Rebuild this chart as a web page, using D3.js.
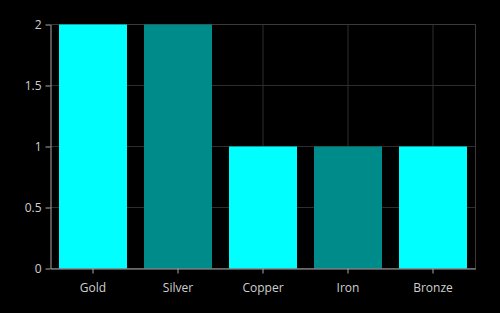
<!DOCTYPE html>
<meta charset="utf-8">
<style>
body { margin: 0; background: #000; }
svg { display: block; }
.grid line { stroke: #2e2e2e; stroke-width: 1px; }
.axis text { fill: #cfcfcf; font-family: "Open Sans", sans-serif; font-size: 12px; }
.axis path, .axis line { stroke: #a8a8a8; }
</style>
<svg width="500" height="313"></svg>
<script src="https://d3js.org/d3.v7.min.js"></script>
<script>

var categories = ["Gold", "Silver", "Copper", "Iron", "Bronze"];
var values = [2, 2, 1, 1, 1];
var barColors = ["#00ffff", "#008b8b", "#00ffff", "#008b8b", "#00ffff"];
var yTicks = [0, 0.5, 1, 1.5, 2];
var yTickLabels = ["0", "0.5", "1", "1.5", "2"];

var svg = d3.select("svg"),
    margin = {top: 24.5, right: 24.5, bottom: 44.5, left: 50.5},
    width = +svg.attr("width") - margin.left - margin.right,
    height = +svg.attr("height") - margin.top - margin.bottom;

svg.append("rect").attr("width", 500).attr("height", 313).attr("fill", "#000");

var g = svg.append("g").attr("transform", "translate(" + margin.left + "," + margin.top + ")");

var x = d3.scaleBand().domain(categories).range([0, width]).paddingInner(0.2).paddingOuter(0.1);
var y = d3.scaleLinear().domain([0, 2]).range([height, 0]);

// grid
var grid = g.append("g").attr("class", "grid");
grid.selectAll(".h").data(yTicks).enter().append("line")
    .attr("x1", 0).attr("x2", width)
    .attr("y1", function(d) { return y(d); }).attr("y2", function(d) { return y(d); });
grid.selectAll(".v").data(categories).enter().append("line")
    .attr("y1", 0).attr("y2", height)
    .attr("x1", function(d) { return x(d) + x.bandwidth() / 2; })
    .attr("x2", function(d) { return x(d) + x.bandwidth() / 2; });
grid.append("line").attr("x1", width).attr("x2", width).attr("y1", 0).attr("y2", height)
    .style("stroke", "#3a3a3a");
grid.append("line").attr("x1", 0).attr("x2", width).attr("y1", 0).attr("y2", 0)
    .style("stroke", "#3a3a3a");

g.selectAll(".bar").data(values).enter().append("rect")
    .attr("x", function(d, i) { return x(categories[i]); })
    .attr("y", function(d) { return y(d); })
    .attr("width", x.bandwidth())
    .attr("height", function(d) { return height - y(d); })
    .attr("fill", function(d, i) { return barColors[i]; });

g.append("g").attr("class", "axis")
    .attr("transform", "translate(0," + height + ")")
    .call(d3.axisBottom(x).tickSize(5).tickSizeOuter(0).tickPadding(8))
    .selectAll("text").attr("dy", "0.9em");

g.append("g").attr("class", "axis")
    .call(d3.axisLeft(y).tickValues(yTicks).tickSize(5).tickSizeOuter(0).tickPadding(4)
      .tickFormat(function(d, i) { return yTickLabels[i]; }));

</script>
